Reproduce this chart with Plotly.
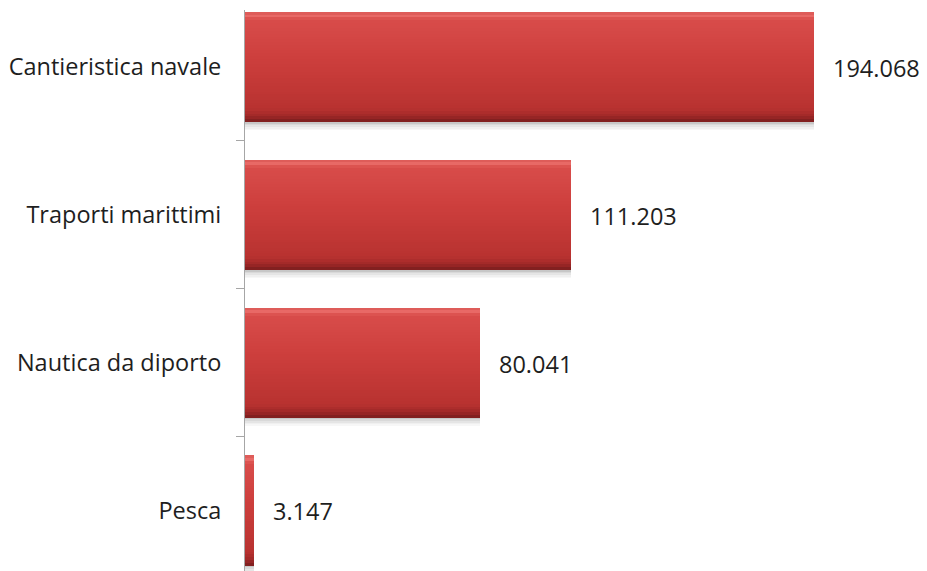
import plotly.graph_objects as go

# Addetti per settore dell'economia del mare
categories = ["Cantieristica navale", "Traporti marittimi", "Nautica da diporto", "Pesca"]
values = [194068, 111203, 80041, 3147]

positions = list(range(len(categories)))
bar_w = 0.745
n_strips = 40
FONT = "Open Sans, Lato, sans-serif"
FONT_SIZE = 23.5

def lerp(c1, c2, t):
    return tuple(round(a + (b - a) * t) for a, b in zip(c1, c2))

# vertical colour profile of a bar: (position 0..1 from top, rgb)
profile = [
    (0.00, (212, 78, 76)),
    (0.03, (236, 112, 108)),
    (0.07, (216, 76, 74)),
    (0.45, (204, 62, 60)),
    (0.88, (184, 50, 48)),
    (0.95, (160, 40, 40)),
    (1.00, (120, 30, 30)),
]

def colour_at(t):
    for (t0, c0), (t1, c1) in zip(profile, profile[1:]):
        if t <= t1:
            return lerp(c0, c1, (t - t0) / (t1 - t0) if t1 > t0 else 0)
    return profile[-1][1]

fig = go.Figure()

# soft shadow under the bars
shadow_alphas = [0.22, 0.15, 0.10, 0.06, 0.03]
sh = 0.0115
for i, a in enumerate(shadow_alphas):
    fig.add_trace(go.Bar(
        y=positions, x=values, orientation="h",
        width=sh, offset=bar_w / 2 + i * sh,
        marker=dict(color="rgba(0,0,0,%.2f)" % a, line=dict(width=0)),
        hoverinfo="skip", showlegend=False,
    ))

strip = bar_w / n_strips
for k in range(n_strips):
    c = colour_at((k + 0.5) / n_strips)
    fig.add_trace(go.Bar(
        y=positions, x=values, orientation="h",
        width=strip * 1.05, offset=-bar_w / 2 + k * strip,
        marker=dict(color="rgb(%d,%d,%d)" % c, line=dict(width=0)),
        hoverinfo="skip", showlegend=False,
    ))

# value labels
for p, v in zip(positions, values):
    fig.add_annotation(
        x=v, y=p, xref="x", yref="y",
        text=f"{v:,}".replace(",", "."),
        showarrow=False, xanchor="left", xshift=17, yshift=-1,
        font=dict(family=FONT, size=FONT_SIZE, color="#1e1e1e"),
    )

fig.update_layout(
    width=927, height=571,
    margin=dict(l=245, r=0, t=10, b=0),
    paper_bgcolor="white", plot_bgcolor="white",
    barmode="overlay", bargap=0,
    separators=",.",
    xaxis=dict(range=[0, 232600], visible=False, fixedrange=True),
    yaxis=dict(
        range=[3.41, -0.385],
        tickvals=positions, ticktext=categories,
        ticks="", ticklabelstandoff=18,
        showline=True, linecolor="#a6a6a6", linewidth=1,
        showgrid=False, zeroline=False,
        tickfont=dict(family=FONT, size=FONT_SIZE, color="#1e1e1e"),
        minor=dict(tickvals=[0.5, 1.5, 2.5], ticks="outside", ticklen=8,
                   tickcolor="#a6a6a6", tickwidth=1, showgrid=False),
    ),
)

fig.write_html("out.html")
